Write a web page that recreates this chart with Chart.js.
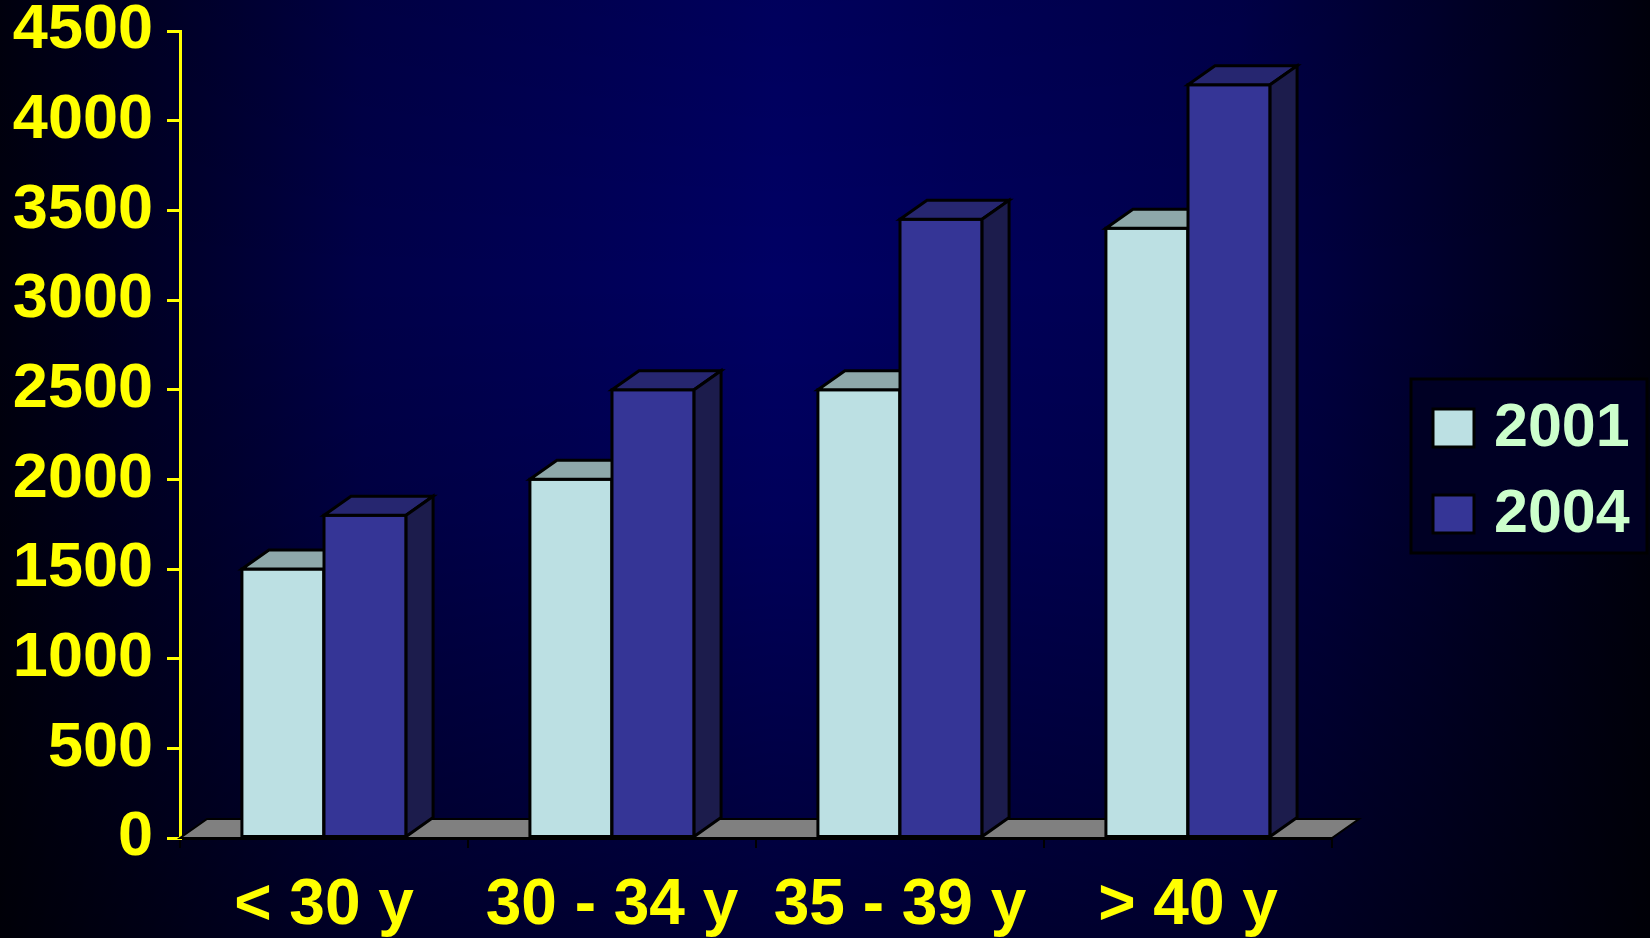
<!DOCTYPE html>
<html>
<head>
<meta charset="utf-8">
<script src="https://cdn.jsdelivr.net/npm/chart.js@4.4.1/dist/chart.umd.min.js"></script>
<style>
  html, body { margin: 0; padding: 0; background: #000020; }
  #wrap { width: 1650px; height: 938px; position: relative; }
</style>
</head>
<body>
<div id="wrap"><canvas id="c"></canvas></div>
<script>
const categories = ['< 30 y', '30 - 34 y', '35 - 39 y', '> 40 y'];
const seriesNames = ['2001', '2004'];
const values2001 = [1500, 2000, 2500, 3400];
const values2004 = [1800, 2500, 3450, 4200];
const yTicks = [0, 500, 1000, 1500, 2000, 2500, 3000, 3500, 4000, 4500];

const FONT = '"Liberation Sans", Arial, Helvetica, sans-serif';
const DX = 27, DY = -19;

const faces = [
  { front: '#bce0e3', top: '#8ea8aa', side: '#5f7476' },
  { front: '#353596', top: '#262670', side: '#1c1c4c' }
];

function poly(ctx, pts, fill) {
  ctx.beginPath();
  ctx.moveTo(pts[0][0], pts[0][1]);
  for (let i = 1; i < pts.length; i++) ctx.lineTo(pts[i][0], pts[i][1]);
  ctx.closePath();
  ctx.fillStyle = fill;
  ctx.fill();
  ctx.stroke();
}

const bgPlugin = {
  id: 'bg',
  beforeDraw(chart) {
    const ctx = chart.ctx;
    const W = chart.width, H = chart.height;
    ctx.save();
    const h = ctx.createLinearGradient(0, 0, W, 0);
    h.addColorStop(0, '#00000e');
    h.addColorStop(0.22, '#000048');
    h.addColorStop(0.47, '#000064');
    h.addColorStop(0.75, '#00004c');
    h.addColorStop(1, '#00000c');
    ctx.fillStyle = h;
    ctx.fillRect(0, 0, W, H);
    const v = ctx.createLinearGradient(0, 0, 0, H);
    v.addColorStop(0, 'rgba(0,0,0,0.08)');
    v.addColorStop(0.3, 'rgba(0,0,0,0)');
    v.addColorStop(0.55, 'rgba(0,0,0,0.1)');
    v.addColorStop(1, 'rgba(0,0,0,0.45)');
    ctx.fillStyle = v;
    ctx.fillRect(0, 0, W, H);
    ctx.restore();
  }
};

const bars3d = {
  id: 'bars3d',
  beforeDatasetDraw() { return false; },
  afterDatasetsDraw(chart) {
    const ctx = chart.ctx;
    const area = chart.chartArea;
    ctx.save();
    ctx.lineJoin = 'miter';
    ctx.strokeStyle = '#000000';
    ctx.lineWidth = 2;
    const b = area.bottom, l = area.left, r = area.right;
    poly(ctx, [[l, b], [l + DX, b + DY], [r + DX, b + DY], [r, b]], '#808080');
    ctx.lineWidth = 3;
    const n = chart.data.labels.length;
    for (let i = 0; i < n; i++) {
      chart.data.datasets.forEach((ds, di) => {
        const el = chart.getDatasetMeta(di).data[i];
        const p = el.getProps(['x', 'y', 'base', 'width'], true);
        const x0 = p.x - p.width / 2, x1 = p.x + p.width / 2;
        const y = p.y, base = p.base;
        const f = faces[di];
        poly(ctx, [[x0, base], [x0, y], [x1, y], [x1, base]], f.front);
        poly(ctx, [[x0, y], [x0 + DX, y + DY], [x1 + DX, y + DY], [x1, y]], f.top);
        poly(ctx, [[x1, y], [x1 + DX, y + DY], [x1 + DX, base + DY], [x1, base]], f.side);
      });
    }
    ctx.restore();
  }
};

const legendBox = {
  id: 'legendBox',
  afterDraw(chart) {
    const ctx = chart.ctx;
    ctx.save();
    ctx.fillStyle = '#000024';
    ctx.fillRect(1411, 379, 236, 174);
    ctx.strokeStyle = '#000000';
    ctx.lineWidth = 3;
    ctx.strokeRect(1411, 379, 236, 174);
    const rows = [428, 514];
    chart.data.datasets.forEach((ds, di) => {
      const cy = rows[di];
      ctx.fillStyle = faces[di].front;
      ctx.fillRect(1433, cy - 19, 41, 38);
      ctx.lineWidth = 3;
      ctx.strokeRect(1433, cy - 19, 41, 38);
      ctx.fillStyle = '#ccffcc';
      ctx.font = 'bold 61px ' + FONT;
      ctx.textBaseline = 'middle';
      ctx.textAlign = 'left';
      ctx.fillText(ds.label, 1494, cy + 1);
    });
    ctx.restore();
  }
};

new Chart(document.getElementById('c'), {
  type: 'bar',
  data: {
    labels: categories,
    datasets: [
      { label: seriesNames[0], data: values2001, backgroundColor: faces[0].front, borderColor: '#000', borderWidth: 3 },
      { label: seriesNames[1], data: values2004, backgroundColor: faces[1].front, borderColor: '#000', borderWidth: 3 }
    ]
  },
  options: {
    responsive: true,
    maintainAspectRatio: false,
    animation: false,
    layout: { padding: { top: 31, right: 318, bottom: 0, left: 0 } },
    datasets: { bar: { categoryPercentage: 0.57, barPercentage: 1.0 } },
    plugins: { legend: { display: false }, tooltip: { enabled: false } },
    scales: {
      x: {
        afterFit(s) { s.height = 100; s.paddingLeft = 0; s.paddingRight = 0; },
        grid: { display: true, drawOnChartArea: false, drawTicks: true, tickLength: 10, color: '#000000', lineWidth: 2, offset: true },
        border: { display: true, color: '#000000', width: 3 },
        ticks: { color: '#ffff00', padding: 26, font: { family: FONT, size: 64, weight: 'bold', lineHeight: 1 }, maxRotation: 0, autoSkip: false }
      },
      y: {
        min: 0, max: 4500,
        afterFit(s) { s.width = 180; s.paddingTop = 0; s.paddingBottom = 0; },
        afterBuildTicks(s) { s.ticks = yTicks.map(v => ({ value: v })); },
        grid: { display: true, drawOnChartArea: false, drawTicks: true, tickLength: 13, color: '#ffff00', lineWidth: 3 },
        border: { display: true, color: '#ffff00', width: 3 },
        ticks: { color: '#ffff00', padding: 14, callback: (v) => String(v), font: { family: FONT, size: 63, weight: 'bold', lineHeight: 1 } }
      }
    }
  },
  plugins: [bgPlugin, bars3d, legendBox]
});
</script>
</body>
</html>
